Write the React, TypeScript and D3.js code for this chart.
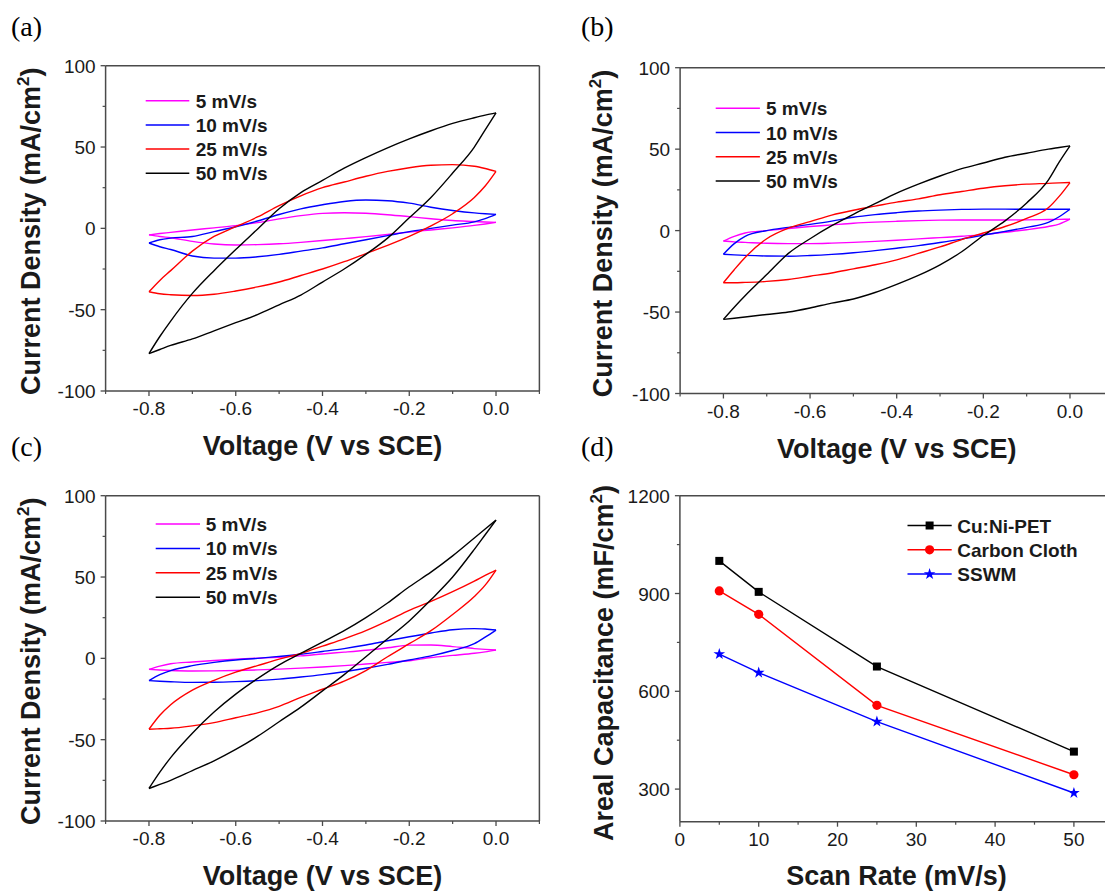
import React from 'react';
import * as d3 from 'd3';

// ---------- DATA ----------
const VOLT = [-0.8, -0.775, -0.75, -0.7, -0.65, -0.6, -0.55, -0.5, -0.45, -0.4, -0.35, -0.3, -0.25, -0.2, -0.15, -0.1, -0.05, -0.025, 0];
const RATE_LABELS = ['5 mV/s', '10 mV/s', '25 mV/s', '50 mV/s'];
const RATE_COLORS = ['#ff00ff', '#0000ff', '#ff0000', '#000000'];

// panel (a)
const A_5_UP = [-4, -3.2, -2.5, -1, 0.3, 1.7, 3.5, 5.8, 7.8, 9.2, 9.6, 9.3, 8.4, 7.2, 5.9, 4.8, 4.2, 3.9, 3.7];
const A_5_DN = [-4, -5, -5.8, -8, -9.6, -10.2, -10, -9.5, -8.6, -7.5, -6.3, -5.1, -3.8, -2.3, -1, 0.3, 1.8, 2.7, 3.7];
const A_10_UP = [-9, -7, -6, -5, -2, 1, 4.5, 8.5, 12, 14.5, 16.5, 17.4, 17, 15.5, 13, 11, 9.5, 9, 8.6];
const A_10_DN = [-9, -11.3, -13, -17, -18.3, -18.3, -17.5, -16, -14, -12, -9.5, -7, -4.5, -2, 0, 2, 4, 6, 8.6];
const A_25_UP = [-39, -32, -26, -14, -5, 1, 7, 14, 20, 25, 28.5, 32, 35, 37.3, 38.8, 39.2, 38.2, 36.8, 35];
const A_25_DN = [-39, -40.2, -40.8, -41.3, -40.5, -38.5, -36, -33, -29, -25, -20.5, -15.5, -10.5, -5, 1.5, 9, 19, 26, 35];
const A_50_UP = [-77, -66.5, -57, -40, -26, -13, -0.5, 12, 22, 29.5, 37, 43.5, 49.5, 55, 60, 64.5, 68, 69.6, 71];
const A_50_DN = [-77, -74.5, -72, -68, -63, -58, -53, -47, -41, -33, -25, -16, -6, 6.5, 19, 34, 50, 60.5, 71];

// panel (b)
const B_5_UP = [-6.4, -3.5, -1.5, 0, 1.3, 2.5, 3.5, 4.5, 5.2, 5.7, 6.1, 6.4, 6.5, 6.5, 6.5, 6.6, 6.8, 6.9, 7];
const B_5_DN = [-6.4, -6.9, -7.2, -7.8, -8, -8, -7.7, -7.2, -6.6, -5.9, -5.1, -4.3, -3.5, -2.5, -1, 0.5, 2.5, 4, 7];
const B_10_UP = [-14.5, -8, -3.5, 0, 2, 3.8, 5.8, 8.2, 9.8, 11, 12, 12.6, 13, 13.2, 13.2, 13.1, 13.1, 13.1, 13.1];
const B_10_DN = [-14.5, -14.9, -15.2, -15.6, -15.7, -15.3, -14.6, -13.6, -12.3, -10.8, -9.2, -7.3, -5.2, -2.8, -0.5, 2, 5, 8.5, 13.1];
const B_25_UP = [-32, -24, -16.5, -5, 1.5, 5.5, 9.5, 12.5, 15, 17.5, 19.5, 22, 24, 26, 27.5, 28.5, 29, 29.3, 29.5];
const B_25_DN = [-32, -32, -31.8, -31.2, -30, -28, -26, -23.5, -21, -18, -14, -10, -5.5, -1.5, 2.5, 7.5, 14, 21, 29.5];
const B_50_UP = [-54.5, -47, -40, -27, -14, -5, 3, 10, 16.5, 23, 28.5, 33.5, 38, 41.5, 45, 47.5, 50, 51, 52];
const B_50_DN = [-54.5, -53.8, -53, -51.5, -50, -47.5, -44.5, -42, -38, -33, -27.5, -21, -13, -3, 6, 17, 31, 42, 52];

// panel (c)
const C_5_UP = [-6.8, -4.8, -3.3, -2.2, -1.3, -0.5, 0.1, 0.7, 1.5, 2.7, 3.8, 5, 6.5, 8.1, 8.2, 7.2, 6, 5.5, 5.1];
const C_5_DN = [-6.8, -7.2, -7.5, -7.8, -7.7, -7.5, -7.1, -6.6, -6, -5.3, -4.5, -3.5, -2.5, -1.5, 0.5, 1.8, 3.1, 4, 5.1];
const C_10_UP = [-13.7, -10, -7.5, -4.5, -2.5, -1, 0, 1.2, 2.5, 4.2, 6, 8.2, 10.8, 13.3, 15.6, 17.6, 18.3, 18, 17.4];
const C_10_DN = [-13.7, -14.1, -14.4, -14.8, -14.7, -14.3, -13.7, -12.8, -11.5, -10, -8.2, -6.1, -3.7, -1, 1.5, 4.8, 9, 13, 17.4];
const C_25_UP = [-43.6, -35, -28.5, -19.5, -13.5, -8.5, -4.5, -0.5, 3, 7.5, 12, 17, 23, 29.5, 35, 41, 47.5, 51, 54.3];
const C_25_DN = [-43.6, -43.3, -43, -41.5, -39.5, -36.5, -33.5, -29.5, -24, -19, -14, -7.5, 1, 9, 17, 27, 38, 45, 54.3];
const C_50_UP = [-80, -70, -61, -46, -33, -22, -12.5, -4, 3, 10, 17, 25, 34, 44, 53, 63, 74, 79.5, 85];
const C_50_DN = [-80, -77.5, -75, -69, -63, -56, -48, -39, -30, -20, -10, 1, 12, 23, 36, 50, 67, 76, 85];

// panel (d)
const SCAN_RATES = [5, 10, 25, 50];
const CUNI_PET = [1000, 905, 676, 415];
const CARBON_CLOTH = [908, 836, 557, 344];
const SSWM = [714, 657, 507, 288];
const D_LABELS = ['Cu:Ni-PET', 'Carbon Cloth', 'SSWM'];
const D_COLORS = ['#000000', '#ff0000', '#0000ff'];

// axis ticks
const CV_Y_MAJOR = [-100, -50, 0, 50, 100];
const CV_Y_MINOR = [-75, -25, 25, 75];
const CV_X_MAJOR = [-0.8, -0.6, -0.4, -0.2, 0.0];
const CV_X_MINOR = [-0.9, -0.7, -0.5, -0.3, -0.1, 0.1];
const D_X_MAJOR = [0, 10, 20, 30, 40, 50];
const D_X_MINOR = [5, 15, 25, 35, 45, 55];
const D_Y_MAJOR = [300, 600, 900, 1200];
const D_Y_MINOR = [450, 750, 1050];

// ---------- STYLE ----------
const SANS = '"Liberation Sans", Arial, Helvetica, sans-serif';
const SERIF = '"Liberation Serif", "Times New Roman", serif';
const AXIS_COLOR = '#4a4a4a';
const TEXT_COLOR = '#1a1a1a';

type Box = { x0: number; x1: number; y0: number; y1: number };

function Axes({ box, xs, ys, xMajor, xMinor, yMajor, yMinor, xFmt, yFmt }: any) {
  return (
    <g>
      <line x1={box.x0} x2={box.x0} y1={box.y0} y2={box.y1} stroke={AXIS_COLOR} strokeWidth={1.5} />
      <line x1={box.x0} x2={box.x1} y1={box.y1} y2={box.y1} stroke={AXIS_COLOR} strokeWidth={1.5} />
      <line x1={box.x0} x2={box.x1} y1={box.y0} y2={box.y0} stroke={AXIS_COLOR} strokeWidth={1.5} />
      <line x1={box.x1} x2={box.x1} y1={box.y0} y2={box.y1} stroke={AXIS_COLOR} strokeWidth={1.5} />
      {xMajor.map((v: number) => (
        <g key={'xM' + v}>
          <line x1={xs(v)} x2={xs(v)} y1={box.y1} y2={box.y1 + 5} stroke={AXIS_COLOR} strokeWidth={1.3} />
          <text x={xs(v)} y={box.y1 + 24} textAnchor="middle" fontFamily={SANS} fontSize={19} fill={TEXT_COLOR}>{xFmt(v)}</text>
        </g>
      ))}
      {xMinor.map((v: number) => (
        <line key={'xm' + v} x1={xs(v)} x2={xs(v)} y1={box.y1} y2={box.y1 + 3} stroke={AXIS_COLOR} strokeWidth={1.2} />
      ))}
      {yMajor.map((v: number) => (
        <g key={'yM' + v}>
          <line x1={box.x0 - 5} x2={box.x0} y1={ys(v)} y2={ys(v)} stroke={AXIS_COLOR} strokeWidth={1.3} />
          <text x={box.x0 - 10} y={ys(v) + 7} textAnchor="end" fontFamily={SANS} fontSize={19} fill={TEXT_COLOR}>{yFmt(v)}</text>
        </g>
      ))}
      {yMinor.map((v: number) => (
        <line key={'ym' + v} x1={box.x0 - 3} x2={box.x0} y1={ys(v)} y2={ys(v)} stroke={AXIS_COLOR} strokeWidth={1.2} />
      ))}
    </g>
  );
}

function YTitle({ x, y, main, unit }: { x: number; y: number; main: string; unit: string }) {
  return (
    <text transform={`translate(${x},${y}) rotate(-90)`} textAnchor="middle" fontFamily={SANS} fontWeight="bold" fontSize={27} fill={TEXT_COLOR}>
      <tspan>{main + ' (' + unit}</tspan>
      <tspan dy={-11} fontSize={17}>2</tspan>
      <tspan dy={11}>)</tspan>
    </text>
  );
}

function CVPanel({ box, loops, legend, yTitleX, xTitleY, letter, letterPos }: any) {
  const xs = d3.scaleLinear().domain([-0.9, 0.1]).range([box.x0, box.x1]);
  const ys = d3.scaleLinear().domain([-100, 100]).range([box.y1, box.y0]);
  const line = d3.line<number>()
    .x((_, i) => xs(VOLT[i]))
    .y((d) => ys(d))
    .curve(d3.curveMonotoneX);
  return (
    <g>
      <text x={letterPos[0]} y={letterPos[1]} fontFamily={SERIF} fontSize={28} fill="#000">{letter}</text>
      <Axes box={box} xs={xs} ys={ys} xMajor={CV_X_MAJOR} xMinor={CV_X_MINOR} yMajor={CV_Y_MAJOR} yMinor={CV_Y_MINOR}
        xFmt={(v: number) => v.toFixed(1)} yFmt={(v: number) => String(v)} />
      {loops.map((lp: number[][], i: number) => (
        <g key={i} fill="none" stroke={RATE_COLORS[i]} strokeWidth={1.4}>
          <path d={line(lp[0]) || ''} />
          <path d={line(lp[1]) || ''} />
        </g>
      ))}
      {RATE_LABELS.map((lab, i) => (
        <g key={lab}>
          <line x1={legend.lx0} x2={legend.lx1} y1={legend.y + i * legend.dy} y2={legend.y + i * legend.dy} stroke={RATE_COLORS[i]} strokeWidth={1.5} />
          <text x={legend.tx} y={legend.y + i * legend.dy + 7} fontFamily={SANS} fontWeight="bold" fontSize={19} fill={TEXT_COLOR}>{lab}</text>
        </g>
      ))}
      <YTitle x={yTitleX} y={(box.y0 + box.y1) / 2 + 3} main="Current Density" unit="mA/cm" />
      <text x={(box.x0 + box.x1) / 2} y={xTitleY} textAnchor="middle" fontFamily={SANS} fontWeight="bold" fontSize={27} fill={TEXT_COLOR}>Voltage (V vs SCE)</text>
    </g>
  );
}

function Marker({ kind, x, y, color }: { kind: number; x: number; y: number; color: string }) {
  if (kind === 0) return <rect x={x - 4} y={y - 4} width={8} height={8} fill={color} />;
  if (kind === 1) return <circle cx={x} cy={y} r={4.6} fill={color} />;
  const star = d3.symbol().type(d3.symbolStar).size(42)();
  return <path d={star || ''} transform={`translate(${x},${y})`} fill={color} />;
}

function RatePanel() {
  const box: Box = { x0: 679.9, x1: 1113.3, y0: 495.7, y1: 821.7 };
  const xs = d3.scaleLinear().domain([0, 55]).range([box.x0, box.x1]);
  const ys = d3.scaleLinear().domain([200, 1200]).range([box.y1, box.y0]);
  const series = [CUNI_PET, CARBON_CLOTH, SSWM];
  const line = d3.line<number>().x((_, i) => xs(SCAN_RATES[i])).y((d) => ys(d));
  const legend = { lx0: 907.5, lx1: 951.7, mx: 929.6, tx: 957.3, y: 525.5, dy: 24.3 };
  return (
    <g>
      <text x={581} y={456} fontFamily={SERIF} fontSize={28} fill="#000">(d)</text>
      <Axes box={box} xs={xs} ys={ys} xMajor={D_X_MAJOR} xMinor={D_X_MINOR} yMajor={D_Y_MAJOR} yMinor={D_Y_MINOR}
        xFmt={(v: number) => String(v)} yFmt={(v: number) => String(v)} />
      {series.map((s, k) => (
        <g key={k}>
          <path d={line(s) || ''} fill="none" stroke={D_COLORS[k]} strokeWidth={1.4} />
          {s.map((v, i) => <Marker key={i} kind={k} x={xs(SCAN_RATES[i])} y={ys(v)} color={D_COLORS[k]} />)}
        </g>
      ))}
      {D_LABELS.map((lab, k) => (
        <g key={lab}>
          <line x1={legend.lx0} x2={legend.lx1} y1={legend.y + k * legend.dy} y2={legend.y + k * legend.dy} stroke={D_COLORS[k]} strokeWidth={1.5} />
          <Marker kind={k} x={legend.mx} y={legend.y + k * legend.dy} color={D_COLORS[k]} />
          <text x={legend.tx} y={legend.y + k * legend.dy + 7} fontFamily={SANS} fontWeight="bold" fontSize={19} fill={TEXT_COLOR}>{lab}</text>
        </g>
      ))}
      <YTitle x={613} y={663} main="Areal Capacitance" unit="mF/cm" />
      <text x={896.5} y={885} textAnchor="middle" fontFamily={SANS} fontWeight="bold" fontSize={27} fill={TEXT_COLOR}>Scan Rate (mV/s)</text>
    </g>
  );
}

export default function App() {
  const boxA: Box = { x0: 105.6, x1: 539.4, y0: 65.7, y1: 391 };
  const boxB: Box = { x0: 680.1, x1: 1113.3, y0: 67.7, y1: 393.5 };
  const boxC: Box = { x0: 105.6, x1: 539.4, y0: 495.7, y1: 821 };
  return (
    <svg width={1105} height={891} style={{ position: 'absolute', left: 0, top: 0, display: 'block', background: '#fff' }}>
      <rect x={0} y={0} width={1105} height={891} fill="#fff" />
      <CVPanel box={boxA} letter="(a)" letterPos={[11, 36]} yTitleX={40} xTitleY={455}
        loops={[[A_5_UP, A_5_DN], [A_10_UP, A_10_DN], [A_25_UP, A_25_DN], [A_50_UP, A_50_DN]]}
        legend={{ lx0: 145.7, lx1: 189.3, tx: 195.7, y: 100.7, dy: 24.2 }} />
      <CVPanel box={boxB} letter="(b)" letterPos={[581, 36]} yTitleX={612} xTitleY={457.5}
        loops={[[B_5_UP, B_5_DN], [B_10_UP, B_10_DN], [B_25_UP, B_25_DN], [B_50_UP, B_50_DN]]}
        legend={{ lx0: 715.7, lx1: 759.9, tx: 766, y: 108.3, dy: 24.2 }} />
      <CVPanel box={boxC} letter="(c)" letterPos={[11, 456]} yTitleX={40} xTitleY={885}
        loops={[[C_5_UP, C_5_DN], [C_10_UP, C_10_DN], [C_25_UP, C_25_DN], [C_50_UP, C_50_DN]]}
        legend={{ lx0: 155.7, lx1: 200, tx: 205.7, y: 524, dy: 24.4 }} />
      <RatePanel />
    </svg>
  );
}
